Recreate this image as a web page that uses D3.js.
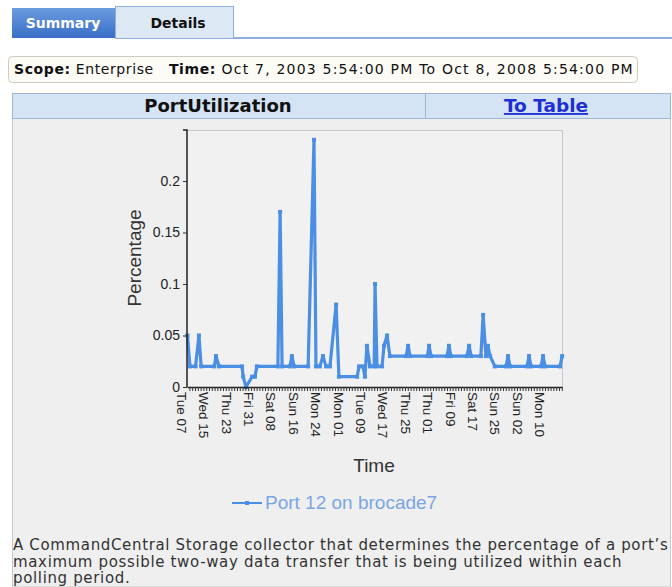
<!DOCTYPE html>
<html>
<head>
<meta charset="utf-8">
<script src="https://cdn.jsdelivr.net/npm/d3@7"></script>
<style>
  body { margin: 0; background: #fff; }
  svg { display: block; }
</style>
</head>
<body>
<script>
// tick labels, one every 8 days (day 0 = Tue 07)
var tickLabels = ['Tue 07', 'Wed 15', 'Thu 23', 'Fri 31', 'Sat 08', 'Sun 16', 'Mon 24', 'Mon 01',
    'Tue 09', 'Wed 17', 'Thu 25', 'Thu 01', 'Fri 09', 'Sat 17', 'Sun 25', 'Sun 02', 'Mon 10'];

var yTicks = [0, 0.05, 0.1, 0.15, 0.2];

// series: day offset and percentage
var days = [2.3, 3.2, 5.2, 6.4, 7.2, 11.9, 12.5, 13.6, 21.8, 22.2, 23.2, 25.4, 26.4, 27.1,
    34.6, 35.4, 36.1, 38.9, 39.6, 40.4, 45.4, 47.5, 48.2, 49.6, 50.7, 51.8, 53.2, 55.4, 56.4,
    62.9, 63.6, 65.0, 65.7, 66.4, 67.5, 69.0, 69.3, 70.0, 71.8, 72.5, 73.6, 74.6, 80.4, 81.1,
    81.8, 88.0, 88.6, 89.3, 95.0, 95.7, 96.4, 102.1, 102.9, 103.6, 107.1, 107.9, 108.9, 109.6,
    110.4, 112.1, 116.1, 116.8, 117.5, 123.6, 124.3, 125.0, 128.6, 129.3, 130.0, 135.4, 136.1];
var values = [0.05, 0.02, 0.02, 0.05, 0.02, 0.02, 0.03, 0.02, 0.02, 0.01, 0, 0.01, 0.01, 0.02,
    0.02, 0.17, 0.02, 0.02, 0.03, 0.02, 0.02, 0.24, 0.02, 0.02, 0.03, 0.02, 0.02, 0.08, 0.01,
    0.01, 0.02, 0.02, 0.01, 0.04, 0.02, 0.02, 0.10, 0.02, 0.02, 0.04, 0.05, 0.03, 0.03, 0.04,
    0.03, 0.03, 0.04, 0.03, 0.03, 0.04, 0.03, 0.03, 0.04, 0.03, 0.03, 0.07, 0.03, 0.04,
    0.03, 0.02, 0.02, 0.03, 0.02, 0.02, 0.03, 0.02, 0.02, 0.03, 0.02, 0.02, 0.03];

var seriesName = 'Port 12 on brocade7';
var lineColor = '#4a8fe3';

var data = days.map(function (d, i) { return { day: d, value: values[i] }; });

var W = 672, H = 587;
var pageFont = '"DejaVu Sans", Verdana, sans-serif';
var chartFont = '"Liberation Sans", Arial, sans-serif';

var svg = d3.select('body').append('svg')
    .attr('width', W)
    .attr('height', H);

// ---- tabs ----
var grad = svg.append('defs').append('linearGradient')
    .attr('id', 'tabGrad').attr('x1', 0).attr('y1', 0).attr('x2', 0).attr('y2', 1);
grad.append('stop').attr('offset', '0%').attr('stop-color', '#6a9be0');
grad.append('stop').attr('offset', '100%').attr('stop-color', '#3a6fc6');

svg.append('rect').attr('x', 12).attr('y', 8).attr('width', 103).attr('height', 30)
    .attr('fill', 'url(#tabGrad)');
svg.append('text').attr('x', 63).attr('y', 28).attr('text-anchor', 'middle')
    .attr('font-family', pageFont).attr('font-weight', 'bold').attr('font-size', 14)
    .attr('fill', '#fff').text('Summary');

svg.append('rect').attr('x', 115.5).attr('y', 6.5).attr('width', 118).attr('height', 32)
    .attr('fill', '#dde8f5').attr('stroke', '#8eaedb');
svg.append('text').attr('x', 178).attr('y', 28).attr('text-anchor', 'middle')
    .attr('font-family', pageFont).attr('font-weight', 'bold').attr('font-size', 14)
    .attr('fill', '#111').text('Details');

svg.append('line').attr('x1', 233).attr('x2', W).attr('y1', 38).attr('y2', 38)
    .attr('stroke', '#8eaedb').attr('stroke-width', 2);

// ---- scope box ----
svg.append('rect').attr('x', 8.5).attr('y', 56.5).attr('width', 629).attr('height', 26).attr('rx', 4)
    .attr('fill', '#fcfbf6').attr('stroke', '#cfcbc0');
var scope = svg.append('text').attr('x', 14).attr('y', 74)
    .attr('font-family', pageFont).attr('font-size', 14).attr('letter-spacing', 0.6)
    .attr('fill', '#111');
scope.append('tspan').attr('font-weight', 'bold').text('Scope:');
scope.append('tspan').text(' Enterprise\u00a0\u00a0\u00a0');
scope.append('tspan').attr('font-weight', 'bold').text('Time:');
scope.append('tspan').attr('letter-spacing', 1.2)
    .text(' Oct 7, 2003 5:54:00 PM To Oct 8, 2008 5:54:00 PM');

// ---- chart panel ----
svg.append('rect').attr('x', 12.5).attr('y', 118).attr('width', 658).attr('height', H - 118)
    .attr('fill', '#efefef').attr('stroke', '#c8c8c8');

svg.append('rect').attr('x', 12.5).attr('y', 93.5).attr('width', 658).attr('height', 25)
    .attr('fill', '#d5e4f4').attr('stroke', '#9db7d3');
svg.append('line').attr('x1', 425.5).attr('x2', 425.5).attr('y1', 93.5).attr('y2', 118.5)
    .attr('stroke', '#9db7d3');
svg.append('text').attr('x', 218).attr('y', 112).attr('text-anchor', 'middle')
    .attr('font-family', pageFont).attr('font-weight', 'bold').attr('font-size', 18)
    .attr('fill', '#111').text('PortUtilization');
svg.append('text').attr('x', 546).attr('y', 112).attr('text-anchor', 'middle')
    .attr('font-family', pageFont).attr('font-weight', 'bold').attr('font-size', 18.5)
    .attr('fill', '#1f2fd6').attr('text-decoration', 'underline').text('To Table');

// ---- plot ----
var plot = { left: 187, right: 562, top: 130, bottom: 387 };

var x = d3.scaleLinear()
    .domain([2.143, 136.07])
    .range([plot.left, plot.right]);

var y = d3.scaleLinear()
    .domain([0, 0.2495])
    .range([plot.bottom, plot.top]);

svg.append('rect').attr('x', plot.left).attr('y', plot.top)
    .attr('width', plot.right - plot.left).attr('height', plot.bottom - plot.top)
    .attr('fill', '#f1f1f1');
svg.append('path')
    .attr('d', 'M' + plot.left + ',' + (plot.top + 0.5) + 'H' + (plot.right + 0.5) + 'V' + plot.bottom)
    .attr('fill', 'none').attr('stroke', '#c4c9cf');

var line = d3.line()
    .x(function (d) { return x(d.day); })
    .y(function (d) { return y(d.value); });

svg.append('path')
    .datum(data)
    .attr('fill', 'none')
    .attr('stroke', lineColor)
    .attr('stroke-width', 3.2)
    .attr('stroke-linejoin', 'round')
    .attr('d', line);

svg.selectAll('.pt')
    .data(data)
    .enter().append('rect')
    .attr('class', 'pt')
    .attr('x', function (d) { return x(d.day) - 2; })
    .attr('y', function (d) { return y(d.value) - 2; })
    .attr('width', 4).attr('height', 4)
    .attr('fill', lineColor);

// minor day ticks
var minorAxis = d3.axisBottom(x)
    .tickValues(d3.range(3, 137))
    .tickSize(4)
    .tickSizeOuter(0)
    .tickFormat('');
var minorGroup = svg.append('g')
    .attr('transform', 'translate(0,' + plot.bottom + ')')
    .call(minorAxis);
minorGroup.selectAll('line').attr('stroke', '#333');
minorGroup.select('.domain').attr('stroke', '#222').attr('stroke-width', 1.5);

// labelled ticks
var xAxis = d3.axisBottom(x)
    .tickValues(tickLabels.map(function (d, i) { return i * 8; }))
    .tickSize(0)
    .tickFormat(function (d, i) { return tickLabels[i]; });
var xGroup = svg.append('g')
    .attr('transform', 'translate(0,' + plot.bottom + ')')
    .call(xAxis);
xGroup.select('.domain').remove();
xGroup.selectAll('text')
    .attr('transform', 'rotate(90)')
    .attr('text-anchor', 'start')
    .attr('x', 5)
    .attr('y', 0)
    .attr('dy', '0.35em')
    .attr('font-family', chartFont)
    .attr('font-size', 13.5)
    .attr('fill', '#222');

var yAxis = d3.axisLeft(y)
    .tickValues(yTicks)
    .tickSize(4)
    .tickSizeOuter(0)
    .tickFormat(function (d) { return String(d); });
var yGroup = svg.append('g')
    .attr('transform', 'translate(' + plot.left + ',0)')
    .call(yAxis);
yGroup.select('.domain').attr('stroke', '#222').attr('stroke-width', 1.5)
    .attr('d', 'M0,' + plot.bottom + 'V' + plot.top + 'H-4');
yGroup.selectAll('line').attr('stroke', '#333');
yGroup.selectAll('text')
    .attr('font-family', chartFont)
    .attr('font-size', 14)
    .attr('fill', '#222');

svg.append('text')
    .attr('transform', 'translate(141,258) rotate(-90)')
    .attr('text-anchor', 'middle')
    .attr('font-family', chartFont).attr('font-size', 19)
    .attr('fill', '#333').text('Percentage');

svg.append('text')
    .attr('x', 374).attr('y', 472)
    .attr('text-anchor', 'middle')
    .attr('font-family', chartFont).attr('font-size', 19)
    .attr('fill', '#333').text('Time');

// legend
var legend = svg.append('g').attr('transform', 'translate(232,503)');
legend.append('line').attr('x1', 0).attr('x2', 30).attr('y1', 0).attr('y2', 0)
    .attr('stroke', lineColor).attr('stroke-width', 2);
legend.append('rect').attr('x', 13).attr('y', -2).attr('width', 4).attr('height', 4)
    .attr('fill', lineColor);
legend.append('text').attr('x', 33).attr('y', 6)
    .attr('font-family', chartFont).attr('font-size', 19)
    .attr('fill', '#7aa6e4').text(seriesName);

// description
var desc = ['A CommandCentral Storage collector that determines the percentage of a port\u2019s',
    'maximum possible two-way data transfer that is being utilized within each',
    'polling period.'];
svg.append('g').selectAll('text')
    .data(desc)
    .enter().append('text')
    .attr('x', 13)
    .attr('y', function (d, i) { return 550 + i * 16.5; })
    .attr('font-family', pageFont).attr('font-size', 15).attr('letter-spacing', 0.65)
    .attr('fill', '#333')
    .text(function (d) { return d; });
</script>
</body>
</html>
